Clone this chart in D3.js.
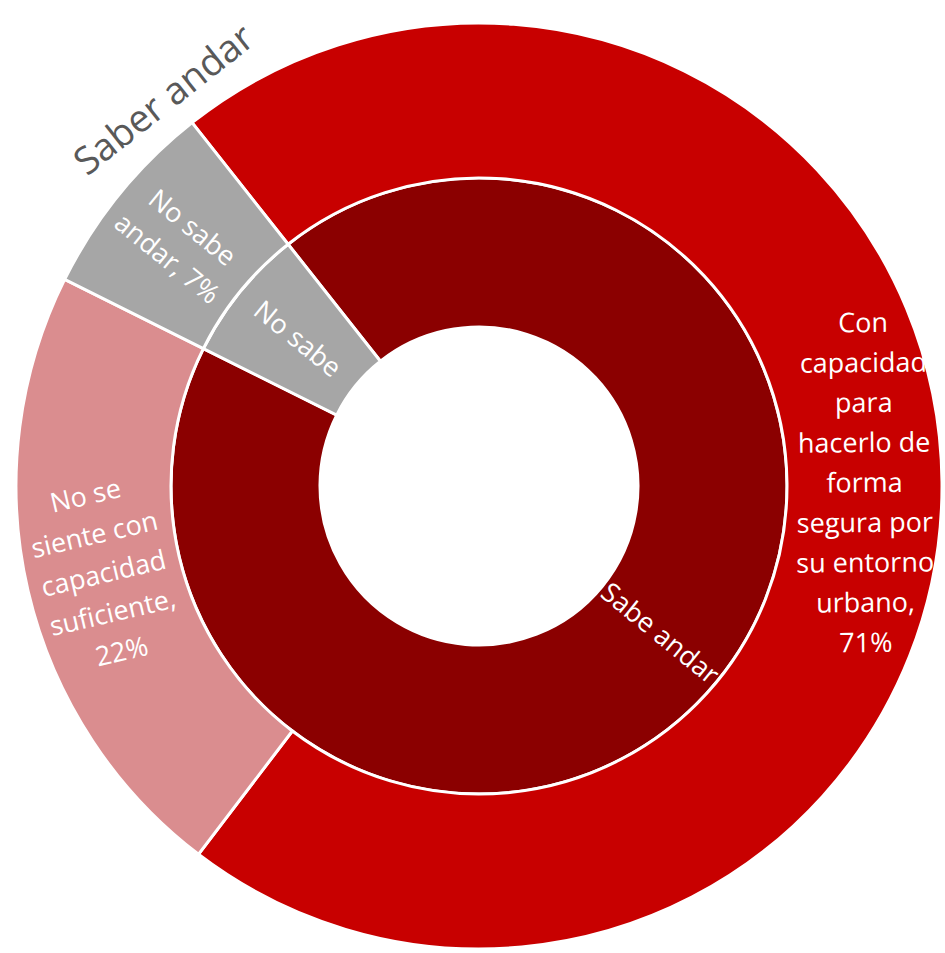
<!DOCTYPE html>
<html>
<head>
<meta charset="utf-8">
<script src="https://cdn.jsdelivr.net/npm/d3@7"></script>
<style>
  body { margin: 0; background: #fff; overflow: hidden; }
  svg { display: block; font-family: 'Open Sans', sans-serif; }
</style>
</head>
<body>
<div id="chart"></div>
<script>
// data
const title = 'Saber andar'
const innerNames = ['Sabe andar', 'No sabe']
const outerNames = [
  'Con capacidad para hacerlo de forma segura por su entorno urbano',
  'No se siente con capacidad suficiente',
  'No sabe andar'
]
const outerParents = ['Sabe andar', 'Sabe andar', 'No sabe']
const outerValues = [71, 22, 7]
// how the labels wrap in the picture
const outerLabelLines = [
  ['Con', 'capacidad', 'para', 'hacerlo de', 'forma', 'segura por', 'su entorno', 'urbano,', '71%'],
  ['No se', 'siente con', 'capacidad', 'suficiente,', '22%'],
  ['No sabe', 'andar, 7%']
]

// colours
const colors = {
  'Sabe andar': '#8b0000',
  'No sabe': '#a6a6a6',
  'Con capacidad para hacerlo de forma segura por su entorno urbano': '#c80000',
  'No se siente con capacidad suficiente': '#da8d8f',
  'No sabe andar': '#a6a6a6'
}

const width = 945
const height = 953
const cx = 479
const cy = 486
const offset = -38.3 * Math.PI / 180 // where the first slice starts

// build the tree
const tree = {
  name: 'root',
  children: innerNames.map(n => ({
    name: n,
    children: outerNames
      .map((o, i) => ({ name: o, value: outerValues[i], lines: outerLabelLines[i] }))
      .filter((o, i) => outerParents[i] === n)
  }))
}

const root = d3.hierarchy(tree).sum(d => d.value || 0)
d3.partition().size([2 * Math.PI, 3])(root)

// rings are not the same thickness
const radius = d3.scaleLinear()
  .domain([1, 2, 3])
  .range([159, 308, 463])

const arc = d3.arc()
  .startAngle(d => d.x0 + offset)
  .endAngle(d => d.x1 + offset)
  .innerRadius(d => radius(d.y0))
  .outerRadius(d => radius(d.y1))

const svg = d3.select('#chart').append('svg')
  .attr('width', width)
  .attr('height', height)

const g = svg.append('g')
  .attr('transform', 'translate(' + cx + ',' + cy + ')')

const nodes = root.descendants().filter(d => d.depth > 0)

g.selectAll('path')
  .data(nodes)
  .enter().append('path')
  .attr('d', arc)
  .attr('fill', d => colors[d.data.name])
  .attr('stroke', '#fff')
  .attr('stroke-width', 3)

// labels run along the radius
const lineH = 40
g.selectAll('.label')
  .data(nodes)
  .enter().append('text')
  .attr('class', 'label')
  .attr('fill', '#fff')
  .attr('font-size', 27)
  .attr('text-anchor', 'middle')
  .attr('transform', d => {
    const c = arc.centroid(d)
    let a = ((d.x0 + d.x1) / 2 + offset) * 180 / Math.PI
    a = (a + 360) % 360
    const rot = a < 180 ? a - 90 : a - 270
    return 'translate(' + c[0] + ',' + c[1] + ') rotate(' + rot + ')'
  })
  .each(function (d) {
    const lines = d.data.lines || [d.data.name]
    const t = d3.select(this)
    lines.forEach((l, i) => {
      t.append('tspan')
        .attr('x', 0)
        .attr('y', (i - (lines.length - 1) / 2) * lineH)
        .attr('dy', '0.35em')
        .text(l)
    })
  })

// title sits outside the ring at the start angle
const tr = radius(3) + 36
const ta = offset - 0.9 * Math.PI / 180
svg.append('text')
  .attr('fill', '#595959')
  .attr('font-size', 38)
  .attr('text-anchor', 'middle')
  .attr('dy', '0.35em')
  .attr('transform', 'translate(' + (cx + tr * Math.sin(ta)) + ',' + (cy - tr * Math.cos(ta)) + ') rotate(' + (offset * 180 / Math.PI) + ')')
  .text(title)
</script>
</body>
</html>
